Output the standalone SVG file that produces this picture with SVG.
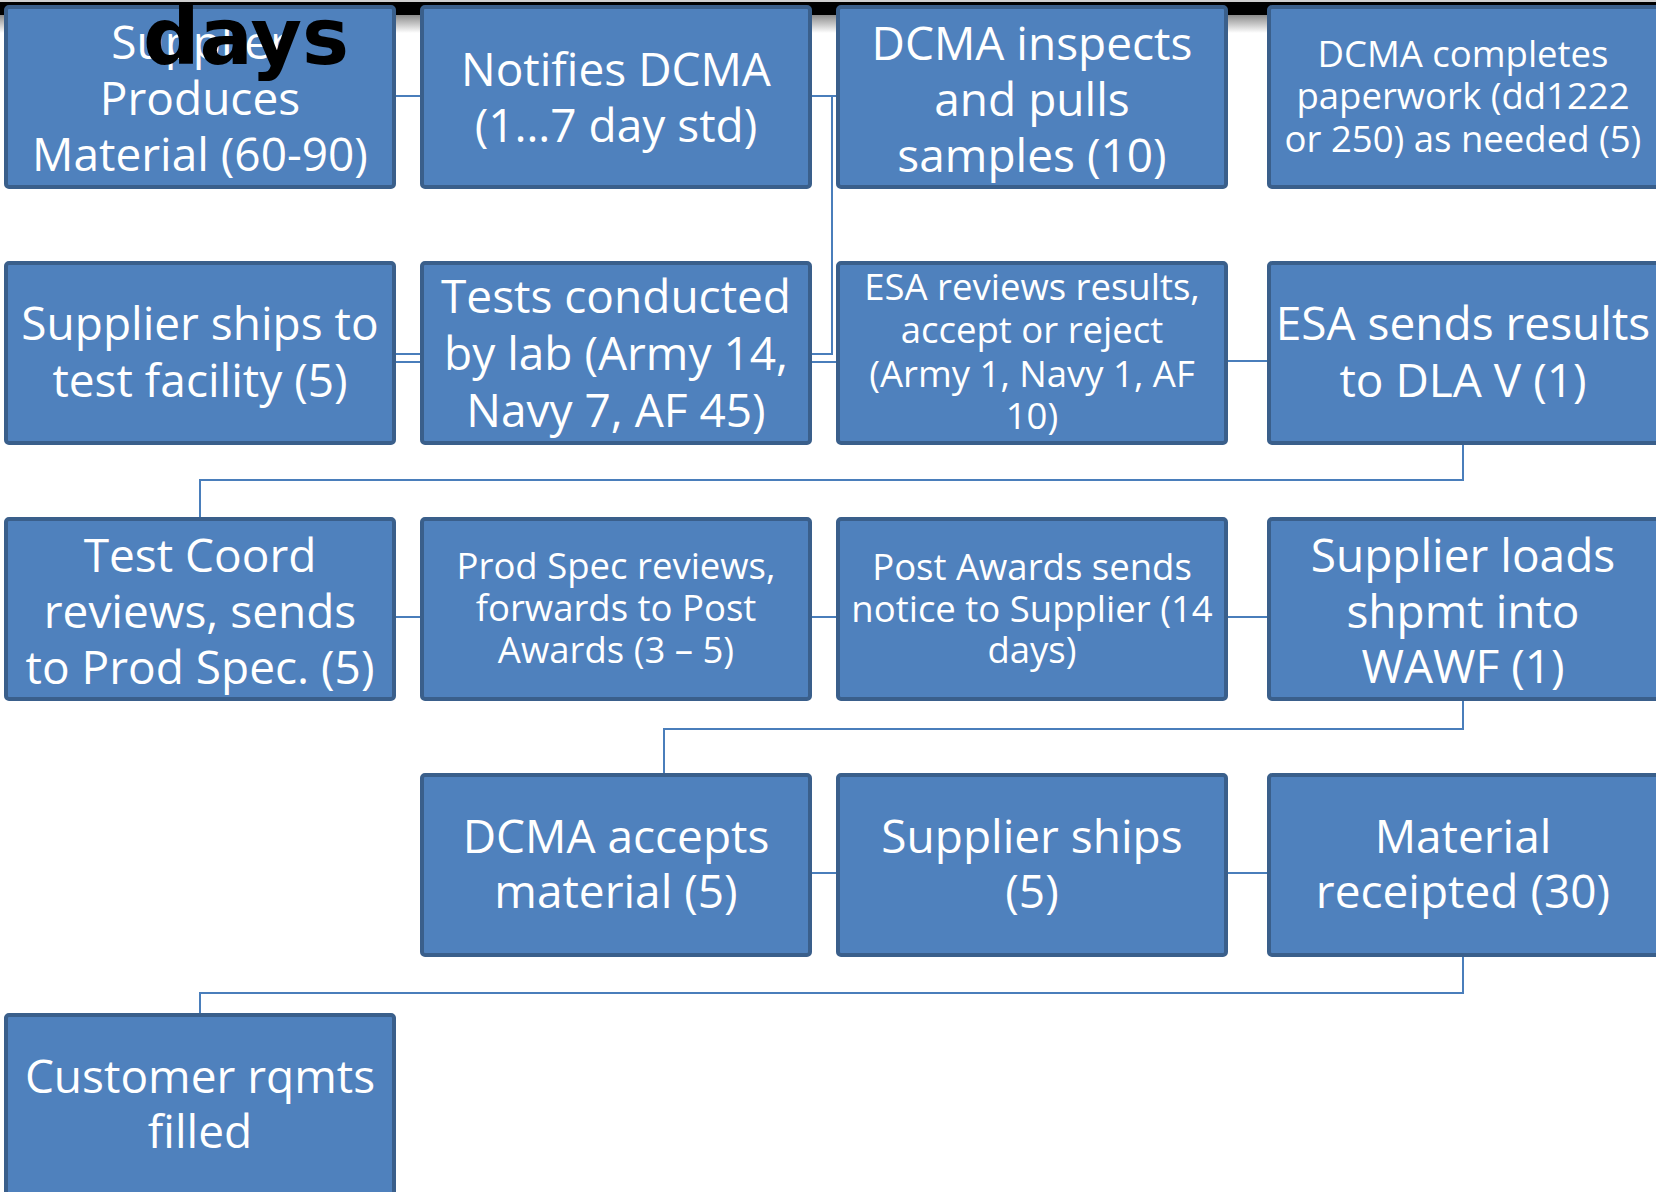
<svg xmlns="http://www.w3.org/2000/svg" width="1656" height="1192" viewBox="0 0 1656 1192">
<defs>
<linearGradient id="shadow" x1="0" y1="0" x2="0" y2="1">
<stop offset="0" stop-color="#8c8c8c"/>
<stop offset="1" stop-color="#ffffff"/>
</linearGradient>
</defs>
<style>
.box{fill:#4f81bd;stroke:#3a5f8b;stroke-width:4}
.t{font-family:"Open Sans","Liberation Sans",sans-serif;fill:#ffffff;text-anchor:middle}
.L{font-size:46px}
.S{font-size:36.5px}
.c{fill:none;stroke:#4a7ebb;stroke-width:2}
.title{font-family:"DejaVu Sans","Liberation Sans",sans-serif;font-weight:bold;font-size:79px;fill:#000000;text-anchor:middle}
</style>
<rect x="0" y="0" width="1656" height="1192" fill="#ffffff"/>
<g id="topbar">
<rect x="0" y="0" width="1656" height="2" fill="#cfcfcf"/>
<rect x="0" y="2" width="1656" height="13" fill="#000000"/>
<rect x="0" y="15" width="1656" height="18" fill="url(#shadow)"/>
</g>
<g id="connectors">
<line class="c" x1="394" y1="96" x2="422" y2="96"/>
<line class="c" x1="810" y1="96" x2="838" y2="96"/>
<polyline class="c" points="832,96 832,354 394,354"/>
<line class="c" x1="394" y1="362" x2="838" y2="362"/>
<line class="c" x1="1226" y1="361" x2="1269" y2="361"/>
<polyline class="c" points="1463,443 1463,480 200,480 200,519"/>
<line class="c" x1="394" y1="617" x2="1269" y2="617"/>
<polyline class="c" points="1463,699 1463,729 664,729 664,775"/>
<line class="c" x1="810" y1="873" x2="1269" y2="873"/>
<polyline class="c" points="1463,955 1463,993 200,993 200,1015"/>
</g>
<g id="n1"><rect class="box" x="6" y="7" width="388" height="180" rx="3"/>
<text class="t L" x="200" y="59">Supplier</text><text class="t L" x="200" y="115">Produces</text><text class="t L" x="200" y="171">Material (60-90)</text></g>
<g id="n2"><rect class="box" x="422" y="7" width="388" height="180" rx="3"/>
<text class="t L" x="616" y="86">Notifies DCMA</text><text class="t L" x="616" y="142">(1…7 day std)</text></g>
<g id="n3"><rect class="box" x="838" y="7" width="388" height="180" rx="3"/>
<text class="t L" x="1032" y="60">DCMA inspects</text><text class="t L" x="1032" y="116">and pulls</text><text class="t L" x="1032" y="172">samples (10)</text></g>
<g id="n4"><rect class="box" x="1269" y="7" width="390" height="180" rx="3"/>
<text class="t S" x="1463" y="67">DCMA completes</text><text class="t S" x="1463" y="109">paperwork (dd1222</text><text class="t S" x="1463" y="152">or 250) as needed (5)</text></g>
<g id="n5"><rect class="box" x="6" y="263" width="388" height="180" rx="3"/>
<text class="t L" x="200" y="340">Supplier ships to</text><text class="t L" x="200" y="397">test facility (5)</text></g>
<g id="n6"><rect class="box" x="422" y="263" width="388" height="180" rx="3"/>
<text class="t L" x="616" y="313">Tests conducted</text><text class="t L" x="616" y="370">by lab (Army 14,</text><text class="t L" x="616" y="427">Navy 7, AF 45)</text></g>
<g id="n7"><rect class="box" x="838" y="263" width="388" height="180" rx="3"/>
<text class="t S" x="1032" y="300">ESA reviews results,</text><text class="t S" x="1032" y="343">accept or reject</text><text class="t S" x="1032" y="387">(Army 1, Navy 1, AF</text><text class="t S" x="1032" y="429">10)</text></g>
<g id="n8"><rect class="box" x="1269" y="263" width="390" height="180" rx="3"/>
<text class="t L" x="1463" y="340">ESA sends results</text><text class="t L" x="1463" y="397">to DLA V (1)</text></g>
<g id="n9"><rect class="box" x="6" y="519" width="388" height="180" rx="3"/>
<text class="t L" x="200" y="572">Test Coord</text><text class="t L" x="200" y="628">reviews, sends</text><text class="t L" x="200" y="684">to Prod Spec. (5)</text></g>
<g id="n10"><rect class="box" x="422" y="519" width="388" height="180" rx="3"/>
<text class="t S" x="616" y="579">Prod Spec reviews,</text><text class="t S" x="616" y="621">forwards to Post</text><text class="t S" x="616" y="663">Awards (3 – 5)</text></g>
<g id="n11"><rect class="box" x="838" y="519" width="388" height="180" rx="3"/>
<text class="t S" x="1032" y="580">Post Awards sends</text><text class="t S" x="1032" y="622">notice to Supplier (14</text><text class="t S" x="1032" y="663">days)</text></g>
<g id="n12"><rect class="box" x="1269" y="519" width="390" height="180" rx="3"/>
<text class="t L" x="1463" y="572">Supplier loads</text><text class="t L" x="1463" y="628">shpmt into</text><text class="t L" x="1463" y="683">WAWF (1)</text></g>
<g id="n13"><rect class="box" x="422" y="775" width="388" height="180" rx="3"/>
<text class="t L" x="616" y="853">DCMA accepts</text><text class="t L" x="616" y="908">material (5)</text></g>
<g id="n14"><rect class="box" x="838" y="775" width="388" height="180" rx="3"/>
<text class="t L" x="1032" y="853">Supplier ships</text><text class="t L" x="1032" y="908">(5)</text></g>
<g id="n15"><rect class="box" x="1269" y="775" width="390" height="180" rx="3"/>
<text class="t L" x="1463" y="853">Material</text><text class="t L" x="1463" y="908">receipted (30)</text></g>
<g id="n16"><rect class="box" x="6" y="1015" width="388" height="190" rx="3"/>
<text class="t L" x="200" y="1093">Customer rqmts</text><text class="t L" x="200" y="1148">filled</text></g>
<text class="title" x="246" y="64">days</text>
</svg>
